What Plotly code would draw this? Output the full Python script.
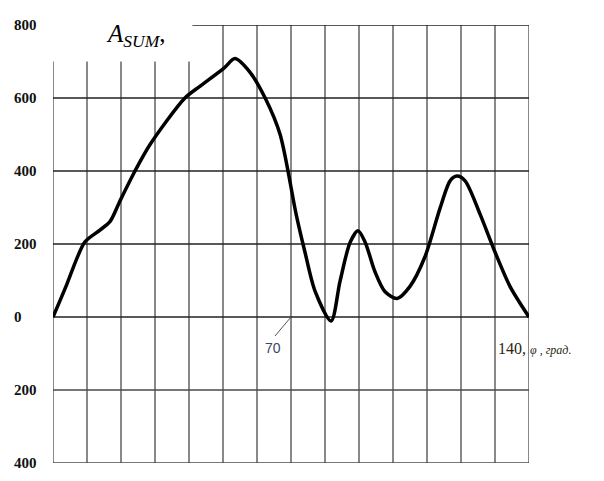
import plotly.graph_objects as go

# Curve data: angle phi (degrees) and A_SUM values
phi = [0, 4.0, 7.0, 9.4, 13.8, 16.8, 19.7, 24.0, 28.5, 38.8, 43.2, 50.3, 53.5, 57.9,
       62.4, 66.8, 71.5, 74.1, 77.1, 81.8, 84.4, 87.4, 89.7, 91.8, 94.7, 97.6,
       101.2, 105, 109.4, 113.8, 116.8, 118.8, 121.2, 125.6, 130, 134.4, 140]
a_sum = [0, 88, 160, 206, 238, 262, 318, 398, 472, 600, 632, 682, 708, 671,
         600, 500, 282, 178, 70, -11, 97, 205, 236, 205, 124, 70,
         51, 84, 165, 297, 373, 386, 373, 282, 178, 84, 0]

# Grid / tick definitions
x_grid = list(range(0, 150, 10))
y_tick_vals = [800, 600, 400, 200, 0, -200, -400]
y_tick_text = ["800", "600", "400", "200", "0", "200", "400"]

fig = go.Figure()

grid_color = "#4a4a4a"
# vertical grid lines
for xv in x_grid:
    top = 700 if xv < 50 else 800
    fig.add_shape(type="line", x0=xv, x1=xv, y0=-400, y1=top,
                  line=dict(color=grid_color, width=1.3), layer="below")
# horizontal grid lines
for yv in y_tick_vals:
    x0 = 41 if yv == 800 else 0
    x1 = 142 if yv == 0 else 140
    fig.add_shape(type="line", x0=x0, x1=x1, y0=yv, y1=yv,
                  line=dict(color="#222222" if yv >= 0 else grid_color, width=1.3),
                  layer="below")

# leader line for the "70" label
fig.add_shape(type="line", x0=70, y0=0, x1=65.3, y1=-52,
              line=dict(color="#555555", width=1))

fig.add_trace(go.Scatter(x=phi, y=a_sum, mode="lines",
                         line=dict(color="black", width=3.5, shape="spline", smoothing=0.8),
                         hoverinfo="skip", showlegend=False))

# y labels
for yv, txt in zip(y_tick_vals, y_tick_text):
    fig.add_annotation(x=-0.086, y=yv, xref="paper", yref="y", text="<b>" + txt + "</b>",
                       showarrow=False, xanchor="left", yanchor="middle",
                       font=dict(family="Liberation Serif", size=15, color="#111111"))

# axis title
fig.add_annotation(x=15, y=770, xref="x", yref="y", text="<i>A<sub>SUM</sub></i>,",
                   showarrow=False, xanchor="left", yanchor="middle",
                   font=dict(family="Liberation Serif", size=25, color="black"))
# x labels
fig.add_annotation(x=64.8, y=-85, xref="x", yref="y", text="70", showarrow=False,
                   xanchor="center", yanchor="middle",
                   font=dict(family="Liberation Sans", size=14, color="#3a4663"))
fig.add_annotation(x=130.3, y=-85, xref="x", yref="y",
                   text="140, <i><span style='font-size:12px'>φ , град.</span></i>",
                   showarrow=False, xanchor="left", yanchor="middle",
                   font=dict(family="Liberation Serif", size=16, color="#2a1f10"))

fig.update_layout(
    width=604, height=481,
    margin=dict(l=45, r=83, t=17, b=26, autoexpand=False),
    paper_bgcolor="white", plot_bgcolor="white",
    xaxis=dict(range=[0, 140], showgrid=False, zeroline=False, showticklabels=False,
               showline=False, ticks=""),
    yaxis=dict(range=[-400, 800], showgrid=False, zeroline=False, showticklabels=False,
               showline=False, ticks=""),
)
fig.write_html("out.html")
